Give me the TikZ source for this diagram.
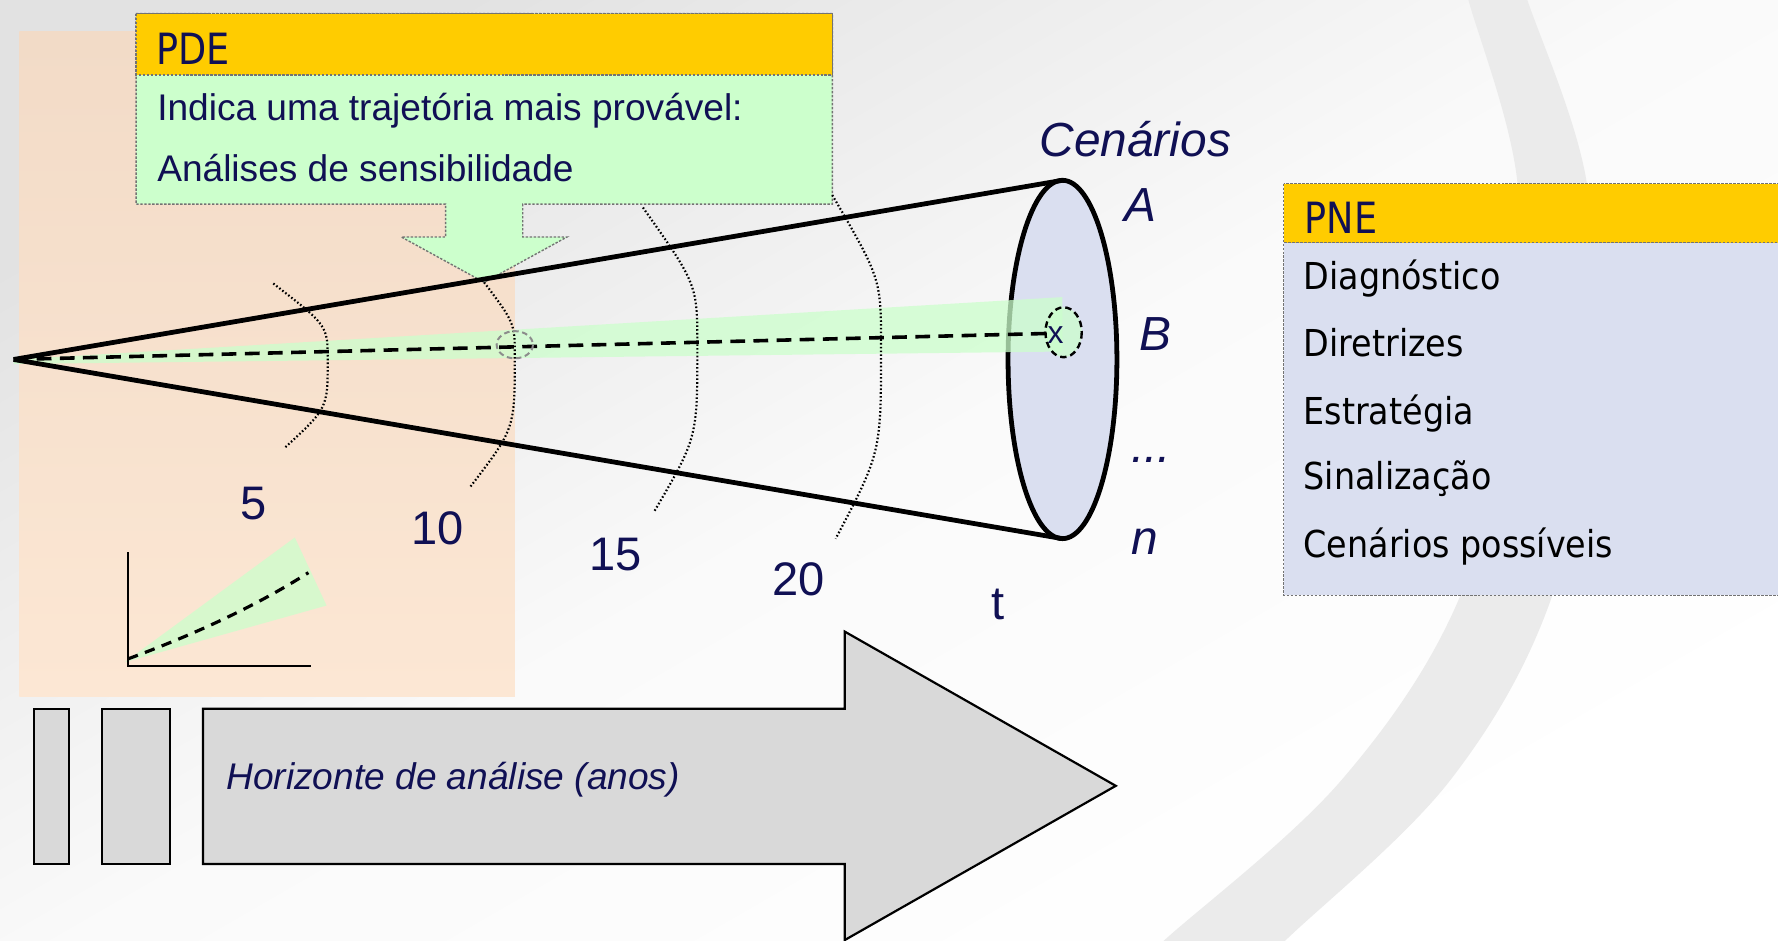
\documentclass[tikz,border=0pt]{standalone}
\usepackage{fontspec}
\setmainfont{Liberation Sans}
\newfontfamily\tahoma[FakeStretch=0.9]{DejaVu Sans}
\newfontfamily\tahomahead[FakeStretch=0.85]{DejaVu Sans}
\definecolor{navy}{RGB}{16,16,84}
\definecolor{peachA}{RGB}{242,219,199}
\definecolor{peachB}{RGB}{252,231,212}
\definecolor{lgreen}{RGB}{204,255,204}
\definecolor{lyellow}{RGB}{255,204,0}
\definecolor{lav}{RGB}{218,223,240}
\definecolor{arrowgray}{RGB}{217,217,217}
\definecolor{swoosh}{RGB}{235,235,235}
\definecolor{bggray}{RGB}{226,226,226}
\begin{document}
\begin{tikzpicture}[x=0.01cm,y=-0.01cm,
  txt/.style={inner sep=0pt, anchor=base west, text=navy},
  num/.style={inner sep=0pt, anchor=base, text=navy, font=\fontsize{11.8}{13}\selectfont},
  scen/.style={inner sep=0pt, anchor=base west, text=navy, font=\fontsize{12}{14}\selectfont\itshape},
  item/.style={inner sep=0pt, anchor=base west, text=black, font=\tahoma\fontsize{9.3}{11}\selectfont},
  head/.style={inner sep=0pt, anchor=base west, text=navy, font=\tahomahead\fontsize{10.8}{12}\selectfont},
  body/.style={inner sep=0pt, anchor=base west, text=navy, font=\fontsize{9.3}{11}\selectfont},
  yearline/.style={line width=0.55pt, dash pattern=on 0.4pt off 0.55pt},
  conel/.style={line width=1.2pt, line join=round},
  boxborder/.style={draw=black!55, line width=0.35pt, dash pattern=on 0.6pt off 0.4pt},
  greenband/.style={fill=lgreen, fill opacity=0.75}]
\useasboundingbox (0,0) rectangle (1568,829);
\begin{scope}
\clip (0,0) rectangle (1568,829);
% background
\shade[top color=bggray, bottom color=white, middle color={rgb,255:red,250;green,250;blue,250}, shading angle=30] (0,0) rectangle (1568,829);
% swoosh ring
\fill[swoosh] plot[smooth, tension=0.6] coordinates {(1287,-30) (1295,0) (1338,159) (1333,330) (1288,525) (1183,688) (1027,829) (993,860)}
  -- plot[smooth, tension=0.6] coordinates {(1102,860) (1134,829) (1279,688) (1369,525) (1403,330) (1399,159) (1347,0) (1337,-30)} -- cycle;
% peach area
\shade[top color=peachA, bottom color=peachB] (17,28) rectangle (454,614);
% inset chart
\fill[greenband] (110,584) -- (260,474) -- (288,534) -- cycle;
\coordinate (ax0) at (113,587);
\coordinate (axy) at (113,487);
\coordinate (axx) at (274,587);
\draw[line width=0.55pt] (axy) -- (ax0) -- (axx);
\coordinate (ic0) at (113,581);
\coordinate (ic1) at (272,505);
\draw[line width=0.8pt, dash pattern=on 2.6pt off 1.9pt] (ic0) .. controls (170,560) and (225,535) .. (ic1);
% PDE callout
\path[fill=lgreen, boxborder] (120,12) -- (734,12) -- (734,180) -- (461,180) -- (461,209) -- (500,209) -- (427,249) -- (354,209) -- (393,209) -- (393,180) -- (120,180) -- cycle;
\path[fill=lyellow, boxborder] (120,12) rectangle (734,66);
\node[head] (pde) at (137,57) {PDE};
\node[body] (pde1) at (138,106) {Indica uma trajetória mais provável:};
\node[body] (pde2) at (138,160) {Análises de sensibilidade};
% cone
\coordinate (apex) at (12,317);
\coordinate (etop) at (937,159);
\coordinate (ebot) at (937,475);
\coordinate (ectr) at (937,317);
\filldraw[fill=lav, conel] (ectr) ellipse [x radius=48, y radius=158];
% green band (most probable trajectory)
\fill[greenband] (apex) -- (937,262) -- (937,310) -- (12,321) -- cycle;
\fill[greenband] (938,293) ellipse [x radius=16, y radius=22];
\draw[conel] (apex) -- (etop);
\draw[conel] (apex) -- (ebot);
% year arcs
\draw[yearline] (241,250) .. controls (289,287) .. (289,318) .. controls (289,360) .. (251,395);
\draw[yearline] (427,249) .. controls (454,285) .. (454,315) .. controls (454,378) .. (415,429);
\draw[yearline] (567,183) .. controls (615,251) .. (615,306) .. controls (615,386) .. (577,451);
\draw[yearline] (734,172) .. controls (777,246) .. (777,306) .. controls (777,399) .. (737,475);
% trajectory line
\coordinate (tend) at (926,294);
\draw[line width=0.9pt, dash pattern=on 3.7pt off 2.1pt] (apex) -- (tend);
\draw[draw=black!45, line width=0.5pt, dash pattern=on 1.4pt off 0.9pt] (454,304) ellipse [x radius=16, y radius=12];
\draw[line width=0.6pt, dash pattern=on 1.6pt off 1pt] (938,293) ellipse [x radius=16, y radius=22];
\node[inner sep=0pt, anchor=base, text=navy, font=\fontsize{8}{9}\selectfont] (xm) at (931,303) {x};
% labels
\node[num] (y5) at (224,458) {5};
\node[num] (y10) at (386,480) {10};
\node[num] (y15) at (543,503) {15};
\node[num] (y20) at (704,525) {20};
\node[num] (yt) at (880,546) {t};
\node[scen] (cen) at (916,138) {Cenários};
\node[scen] (sa) at (991,195) {A};
\node[scen] (sb) at (1004,309) {B};
\node[scen] (sd) at (997,408) {...};
\node[scen] (sn) at (997,489) {n};
% PNE box
\path[fill=lav, boxborder] (1132,162) rectangle (1580,525);
\path[fill=lyellow, boxborder] (1132,162) rectangle (1580,214);
\node[head] (pne) at (1150,206) {PNE};
\node[item] (p1) at (1149,255) {Diagnóstico};
\node[item] (p2) at (1149,314) {Diretrizes};
\node[item] (p3) at (1149,374) {Estratégia};
\node[item] (p4) at (1149,432) {Sinalização};
\node[item] (p5) at (1149,492) {Cenários possíveis};
% horizon arrow
\draw[fill=arrowgray, line width=0.55pt] (30,625) rectangle (61,762);
\draw[fill=arrowgray, line width=0.55pt] (90,625) rectangle (150,762);
\draw[fill=arrowgray, line width=0.55pt, line join=miter] (179,625) -- (745,625) -- (745,557) -- (984,693) -- (745,829) -- (745,762) -- (179,762) -- cycle;
\node[body, font=\fontsize{9.3}{11}\selectfont\itshape] (hz) at (199,696) {Horizonte de análise (anos)};
\end{scope}
\end{tikzpicture}
\end{document}
